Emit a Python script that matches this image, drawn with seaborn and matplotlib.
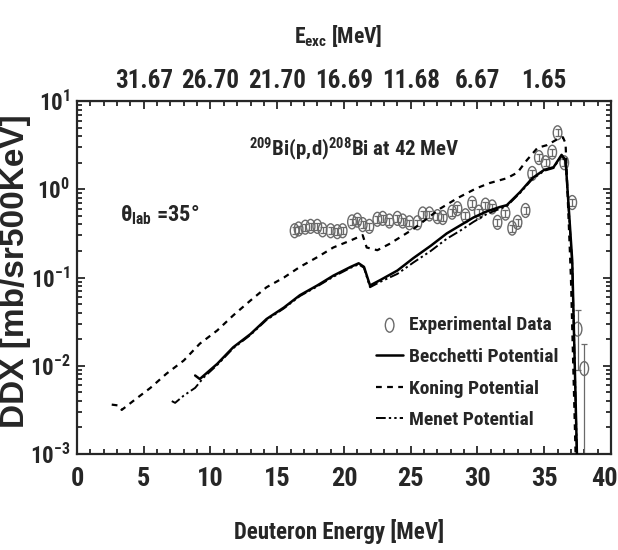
import numpy as np
import matplotlib
matplotlib.use('Agg')
import matplotlib.pyplot as plt
import seaborn as sns
from matplotlib import font_manager
from matplotlib.path import Path
from matplotlib.transforms import Affine2D, ScaledTranslation
from matplotlib.ticker import MultipleLocator, NullFormatter, LogLocator

# данные: энергия дейтронов [МэВ] и DDX [mb/sr/500keV]

e_exp = [16.3, 16.6, 17.1, 17.5, 18.0, 18.4, 19.0, 19.5, 19.9, 20.6, 21.0, 21.4,
         21.9, 22.5, 22.9, 23.4, 24.0, 24.4, 24.9, 25.5, 25.9, 26.4, 27.0, 27.4,
         28.1, 28.5, 29.1, 29.6, 30.1, 30.6, 31.1, 31.5, 32.1, 32.6, 33.0, 33.6,
         34.1, 34.6, 35.1, 35.6, 36.0, 36.5, 37.1, 37.5, 38.0]
ddx_exp = [0.339, 0.355, 0.372, 0.380, 0.380, 0.347, 0.339, 0.331, 0.339, 0.427, 0.447, 0.398,
           0.380, 0.457, 0.468, 0.437, 0.468, 0.437, 0.417, 0.417, 0.525, 0.525, 0.490, 0.479,
           0.550, 0.603, 0.501, 0.692, 0.550, 0.661, 0.631, 0.422, 0.537, 0.363, 0.422, 0.575,
           1.51, 2.29, 2.00, 2.63, 4.37, 2.00, 0.708, 0.026, 0.0093]
err_exp = [0.030, 0.032, 0.033, 0.034, 0.034, 0.031, 0.030, 0.030, 0.030, 0.038, 0.040, 0.036,
           0.034, 0.041, 0.042, 0.039, 0.042, 0.039, 0.037, 0.037, 0.047, 0.047, 0.044, 0.043,
           0.049, 0.054, 0.045, 0.062, 0.049, 0.059, 0.056, 0.038, 0.048, 0.033, 0.038, 0.052,
           0.14, 0.21, 0.18, 0.24, 0.40, 0.18, 0.065, 0.017, 0.0085]

e_bec = [8.85, 9.2, 10.5, 11.7, 13.0, 14.2, 15.5, 16.7, 18.0, 19.2, 20.5, 21.1, 21.5,
         21.95, 22.7, 24.0, 25.2, 26.5, 27.7, 28.7, 29.7, 30.7, 31.7, 32.2, 33.2, 34.1,
         35.0, 35.7, 36.3, 36.6, 37.1, 37.45, 37.6]
ddx_bec = [0.00776, 0.00708, 0.0105, 0.0162, 0.0229, 0.0339, 0.0457, 0.0631, 0.0813, 0.105,
           0.132, 0.145, 0.132, 0.0813, 0.0933, 0.120, 0.166, 0.229, 0.316, 0.389, 0.479,
           0.562, 0.631, 0.661, 0.933, 1.334, 1.660, 1.778, 2.455, 2.138, 0.155, 0.001, 0.0002]

e_kon = [2.6, 3.1, 3.35, 4.2, 5.5, 6.7, 8.0, 9.2, 10.5, 11.7, 13.0, 14.2, 15.5, 16.7,
         18.0, 19.2, 20.5, 21.4, 21.7, 22.5, 23.4, 25.2, 27.2, 28.5, 29.9, 30.9, 32.2,
         33.0, 33.7, 34.5, 35.2, 35.9, 36.4, 36.6, 37.0, 37.35, 37.5]
ddx_kon = [0.00363, 0.00355, 0.00316, 0.00398, 0.00562, 0.00813, 0.01148, 0.0178, 0.0251,
           0.0372, 0.0550, 0.0776, 0.100, 0.132, 0.170, 0.219, 0.263, 0.302, 0.219, 0.204,
           0.240, 0.355, 0.603, 0.794, 1.023, 1.175, 1.334, 1.549, 2.138, 2.951, 3.162,
           3.631, 3.890, 3.311, 0.100, 0.001, 0.0002]

e_men = [7.1, 7.35, 8.0, 8.85, 9.5, 10.5, 11.7, 13.0, 14.2, 15.5, 16.7, 18.0, 19.2, 20.5,
         21.1, 21.5, 21.95, 22.7, 24.0, 25.2, 26.5, 27.7, 28.7, 29.7, 30.7, 31.7, 32.2,
         33.2, 34.1, 35.0, 35.7, 36.3, 36.6, 37.1, 37.45, 37.6]
ddx_men = [0.00398, 0.0038, 0.0046, 0.00562, 0.0074, 0.0102, 0.0158, 0.0224, 0.0331, 0.0447,
           0.0617, 0.0794, 0.102, 0.129, 0.141, 0.129, 0.0776, 0.0891, 0.110, 0.148, 0.200,
           0.275, 0.339, 0.427, 0.525, 0.603, 0.646, 0.912, 1.30, 1.62, 1.74, 2.40, 2.09,
           0.14, 0.001, 0.0002]

bottom_ticks = [0, 5, 10, 15, 20, 25, 30, 35, 40]
top_pos = [5, 10, 15, 20, 25, 30, 35]
top_labels = ['31.67', '26.70', '21.70', '16.69', '11.68', '6.67', '1.65']

# оформление: узкий жирный шрифт, если есть

avail = {f.name for f in font_manager.fontManager.ttflist}
main_font = 'Liberation Sans'
for name in ['Liberation Sans Narrow', 'Roboto Condensed', 'Liberation Sans']:
    if name in avail:
        main_font = name
        break

sns.set_style('ticks')
plt.rcParams['font.family'] = [main_font, 'DejaVu Sans']
plt.rcParams['font.weight'] = 'bold'
plt.rcParams['mathtext.fontset'] = 'custom'
plt.rcParams['mathtext.rm'] = main_font + ':bold'
plt.rcParams['mathtext.it'] = main_font + ':bold'
plt.rcParams['mathtext.bf'] = main_font + ':bold'
plt.rcParams['mathtext.default'] = 'rm'

fig = plt.figure(figsize=(6.18, 5.5), dpi=100)
ax = fig.add_axes([0.1246, 0.1745, 0.864, 0.6418])

ell = Path.unit_circle().transformed(Affine2D().scale(0.62, 1.0))
gray = '#6a6a6a'

ax.errorbar(e_exp, ddx_exp, yerr=err_exp, fmt='none', ecolor=gray,
            elinewidth=0.9, capsize=2.2, capthick=0.9, zorder=2)
sns.scatterplot(x=e_exp, y=ddx_exp, ax=ax, marker=ell, s=100, facecolor='none',
                edgecolor=gray, linewidth=1.0, zorder=3, label='Experimental Data')
sns.lineplot(x=e_bec, y=ddx_bec, ax=ax, color='black', lw=1.8, sort=False,
             estimator=None, label='Becchetti Potential', zorder=4)
sns.lineplot(x=e_kon, y=ddx_kon, ax=ax, color='black', lw=1.6, sort=False,
             estimator=None, linestyle=(0, (2.6, 2.4)), label='Koning Potential', zorder=4)
sns.lineplot(x=e_men, y=ddx_men, ax=ax, color='black', lw=1.4, sort=False,
             estimator=None, linestyle=(0, (5, 1.6, 1.2, 1.6, 1.2, 1.6)),
             label='Menet Potential', zorder=4)

ax.set_yscale('log')
ax.set_xlim(0, 40)
ax.set_ylim(1e-3, 1e1)

for s in ax.spines.values():
    s.set_linewidth(1.6)
    s.set_visible(True)

ax.set_xticks(bottom_ticks)
ax.xaxis.set_minor_locator(MultipleLocator(1))
ax.yaxis.set_major_locator(LogLocator(base=10, numticks=10))
ax.yaxis.set_minor_locator(LogLocator(base=10, subs=np.arange(2, 10), numticks=10))
ax.yaxis.set_minor_formatter(NullFormatter())
ax.tick_params(which='both', direction='in', top=False, right=True, width=1.3)
ax.tick_params(which='major', length=6)
ax.tick_params(which='minor', length=3.5)
ax.tick_params(axis='x', which='major', labelsize=19, pad=9)
ax.tick_params(axis='y', which='major', labelsize=16.5, pad=5)

# подпись "40" у самого края сдвигаем чуть влево
last = ax.get_xticklabels()[-1]
last.set_transform(last.get_transform() + ScaledTranslation(-5 / 72, 0, fig.dpi_scale_trans))

# верхняя ось: энергия возбуждения
top = ax.secondary_xaxis('top')
top.set_xticks(top_pos)
top.set_xticklabels(top_labels)
top.xaxis.set_minor_locator(MultipleLocator(1))
top.tick_params(which='both', direction='in', width=1.3, labelsize=18, pad=6)
top.tick_params(which='major', length=6)
top.tick_params(which='minor', length=3.5)

ax.set_xlabel('Deuteron Energy [MeV]', fontsize=16.5, fontweight='bold')
ax.xaxis.set_label_coords(0.49, -0.185)
ax.set_ylabel('DDX [mb/sr500KeV]', fontsize=24, family=['Liberation Sans', 'DejaVu Sans'],
              fontweight='bold')
ax.yaxis.set_label_coords(-0.086, 0.518)

fig.text(0.548, 0.935, r'E$_{\rm exc}$ [MeV]', ha='center', va='center', fontsize=15.5)
ax.text(0.08, 0.677, r'$\theta_{\rm lab}$ =35°', transform=ax.transAxes,
        ha='left', va='center', fontsize=16)
ax.text(0.323, 0.862, r'$^{209}$Bi(p,d)$^{208}$Bi at 42 MeV', transform=ax.transAxes,
        ha='left', va='center', fontsize=15)

handles, labels = ax.get_legend_handles_labels()
order = ['Experimental Data', 'Becchetti Potential', 'Koning Potential', 'Menet Potential']
hmap = dict(zip(labels, handles))
ax.legend([hmap[k] for k in order], order, loc='upper left', bbox_to_anchor=(0.56, 0.39),
          frameon=False, fontsize=14, borderpad=0, borderaxespad=0, handlelength=1.4,
          handletextpad=0.3, labelspacing=0.7)

fig.savefig('out.png', dpi=100)
